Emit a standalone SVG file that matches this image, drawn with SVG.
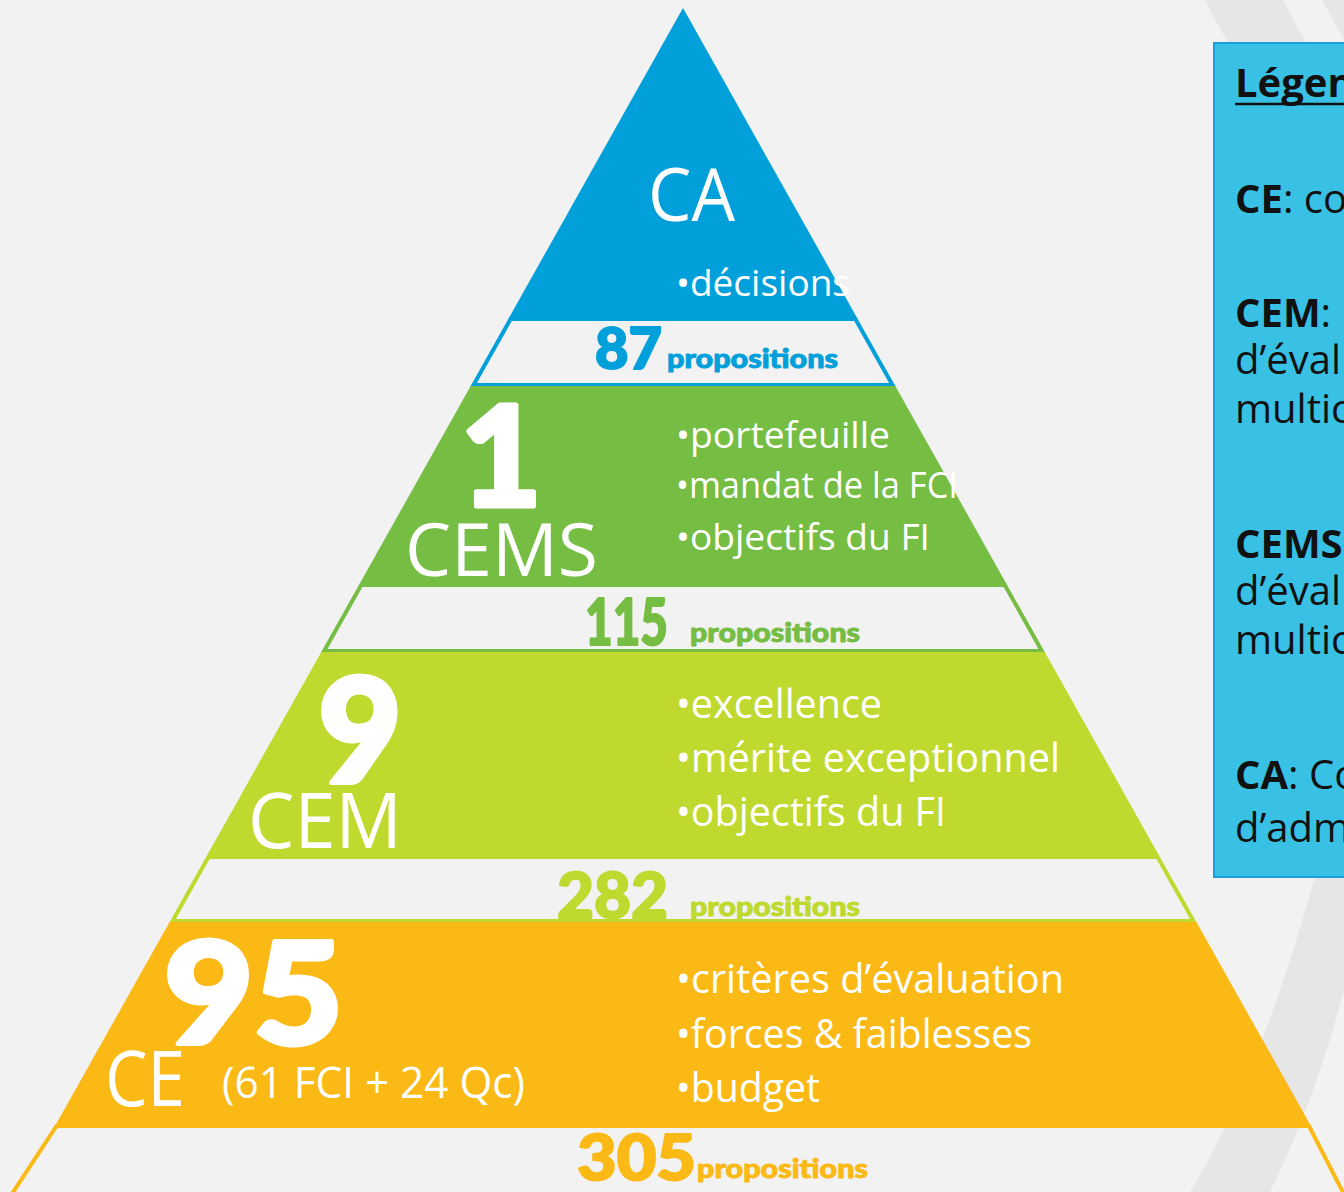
<svg xmlns="http://www.w3.org/2000/svg" width="1344" height="1192" viewBox="0 0 1344 1192">
<style>
.lt{font-family:"Open Sans","Liberation Sans",sans-serif;fill:#ffffff;font-weight:400}
.hv{font-family:Lato,"DejaVu Sans",sans-serif;font-weight:900;stroke-linejoin:round}
.num{stroke-width:2}
.big{stroke:#ffffff;stroke-width:5;fill:#ffffff}
.pr{stroke-width:0.9}
.band{fill:none;stroke-width:4;stroke-linejoin:miter}
.leg{font-family:"Open Sans","Liberation Sans",sans-serif;font-size:40px;fill:#111111}
.b{font-weight:700}
</style>
<rect x="0" y="0" width="1344" height="1192" fill="#f2f2f2"/>
<g id="background-swoosh" fill="#e6e6e6">
<polygon points="1205,0 1283,0 1315,60 1237,60"/>
<polygon points="1322,0 1344,0 1344,40"/>
<path d="M1190,1192 C1240,1110 1290,980 1330,820 L1344,760 L1344,990 C1320,1080 1295,1140 1270,1192 Z"/>
</g>
<g id="tier-ca">
<polygon points="683,8 857.7,319 508.3,319" fill="#02a0db"/>
<text class="lt" x="648" y="221" font-size="74" textLength="87" lengthAdjust="spacingAndGlyphs">CA</text>
<text class="lt" x="676" y="296" font-size="37" textLength="174" lengthAdjust="spacingAndGlyphs">•décisions</text>
</g>
<g id="band-87">
<polygon class="band" points="510.6,319 855.4,319 892.5,385 473.5,385" stroke="#02a0db"/>
<text class="hv num" x="595" y="369" font-size="58" fill="#02a0db" stroke="#02a0db" textLength="67" lengthAdjust="spacingAndGlyphs">87</text>
<text class="hv pr" x="667" y="368" font-size="26" fill="#02a0db" stroke="#02a0db" textLength="171" lengthAdjust="spacingAndGlyphs">propositions</text>
</g>
<g id="tier-cems">
<polygon points="470.7,386 895.3,386 1006.5,584 359.5,584" fill="#76bd44"/>
<text class="hv big" x="501" y="506" font-size="140" text-anchor="middle">1</text>
<text class="lt" x="405" y="576" font-size="73" textLength="193" lengthAdjust="spacingAndGlyphs">CEMS</text>
<text class="lt" x="676" y="448" font-size="36" textLength="214" lengthAdjust="spacingAndGlyphs">•portefeuille</text>
<text class="lt" x="676" y="498" font-size="36" textLength="282" lengthAdjust="spacingAndGlyphs">•mandat de la FCI</text>
<text class="lt" x="676" y="550" font-size="36" textLength="254" lengthAdjust="spacingAndGlyphs">•objectifs du FI</text>
</g>
<g id="band-115">
<polygon class="band" points="361.2,585 1004.8,585 1041.9,651 324.1,651" stroke="#76bd44"/>
<text class="hv num" x="585" y="645" font-size="64" fill="#76bd44" stroke="#76bd44" textLength="83" lengthAdjust="spacingAndGlyphs">115</text>
<text class="hv pr" x="690" y="642" font-size="26" fill="#76bd44" stroke="#76bd44" textLength="170" lengthAdjust="spacingAndGlyphs">propositions</text>
</g>
<g id="tier-cem">
<polygon points="321.3,652 1044.7,652 1159.3,856 206.7,856" fill="#c0d92f"/>
<text class="hv big" x="360" y="783" font-size="144" text-anchor="middle">9</text>
<text class="lt" x="248" y="848" font-size="76" textLength="154" lengthAdjust="spacingAndGlyphs">CEM</text>
<text class="lt" x="676" y="718" font-size="40" textLength="206" lengthAdjust="spacingAndGlyphs">•excellence</text>
<text class="lt" x="676" y="772" font-size="40" textLength="384" lengthAdjust="spacingAndGlyphs">•mérite exceptionnel</text>
<text class="lt" x="676" y="826" font-size="40" textLength="270" lengthAdjust="spacingAndGlyphs">•objectifs du FI</text>
</g>
<g id="band-282">
<polygon class="band" points="208.4,857 1157.6,857 1193.5,921 172.5,921" stroke="#c0d92f"/>
<text class="hv num" x="557" y="918" font-size="63" fill="#c0d92f" stroke="#c0d92f" textLength="111" lengthAdjust="spacingAndGlyphs">282</text>
<text class="hv pr" x="690" y="916" font-size="26" fill="#c0d92f" stroke="#c0d92f" textLength="170" lengthAdjust="spacingAndGlyphs">propositions</text>
</g>
<g id="tier-ce">
<polygon points="169.6,922 1196.4,922 1310.4,1125 55.6,1125" fill="#fbb915"/>
<text class="hv big" x="164" y="1044" font-size="142" textLength="179" lengthAdjust="spacingAndGlyphs">95</text>
<text class="lt" x="105" y="1106" font-size="77" textLength="80" lengthAdjust="spacingAndGlyphs">CE</text>
<text class="lt" x="222" y="1098" font-size="43" textLength="303" lengthAdjust="spacingAndGlyphs">(61 FCI + 24 Qc)</text>
<text class="lt" x="676" y="993" font-size="40" textLength="388" lengthAdjust="spacingAndGlyphs">•critères d’évaluation</text>
<text class="lt" x="676" y="1048" font-size="40" textLength="356" lengthAdjust="spacingAndGlyphs">•forces &amp; faiblesses</text>
<text class="lt" x="676" y="1102" font-size="40" textLength="144" lengthAdjust="spacingAndGlyphs">•budget</text>
</g>
<g id="band-305">
<polygon class="band" points="56.5,1126 1309,1126 1350,1206 4,1206" stroke="#fbb915"/>
<text class="hv num" x="577" y="1180" font-size="62" fill="#fbb915" stroke="#fbb915" textLength="119" lengthAdjust="spacingAndGlyphs">305</text>
<text class="hv pr" x="697" y="1178" font-size="26" fill="#fbb915" stroke="#fbb915" textLength="171" lengthAdjust="spacingAndGlyphs">propositions</text>
</g>
<g id="legend">
<rect x="1214" y="43" width="140" height="834" fill="#38c1e5" stroke="#179fe0" stroke-width="2"/>
<text class="leg b" x="1235" y="97">Légen</text>
<line x1="1235" y1="104" x2="1344" y2="104" stroke="#111111" stroke-width="2.5"/>
<text class="leg" x="1235" y="213"><tspan class="b">CE</tspan>: co</text>
<text class="leg" x="1235" y="327"><tspan class="b">CEM</tspan>:</text>
<text class="leg" x="1235" y="374">d’éval</text>
<text class="leg" x="1235" y="423">multic</text>
<text class="leg b" x="1235" y="558">CEMS</text>
<text class="leg" x="1235" y="605">d’éval</text>
<text class="leg" x="1235" y="654">multic</text>
<text class="leg" x="1235" y="789"><tspan class="b">CA</tspan>: Co</text>
<text class="leg" x="1235" y="842">d’adm</text>
</g>
</svg>
